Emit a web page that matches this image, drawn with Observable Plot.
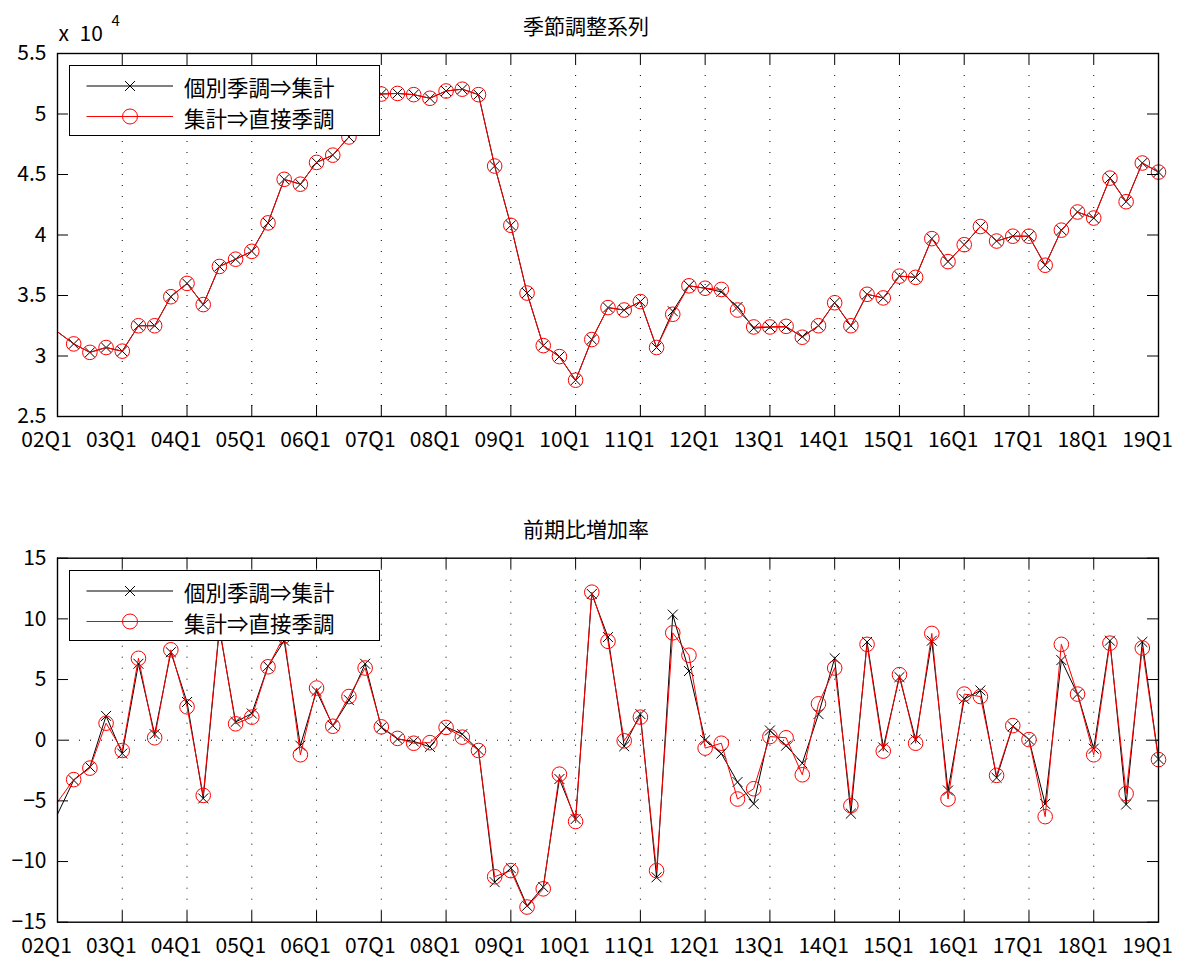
<!DOCTYPE html>
<html>
<head>
<meta charset="utf-8">
<script src="https://cdn.jsdelivr.net/npm/d3@7"></script>
<script src="https://cdn.jsdelivr.net/npm/@observablehq/plot@0.6"></script>
<style>
  body { margin: 0; background: #fff; font-family: "Noto Sans CJK JP", sans-serif; }
  #wrap { position: relative; width: 1181px; height: 959px; overflow: hidden; }
  .panel { position: absolute; left: 0; }
  .legend { position: absolute; left: 69px; width: 311px; height: 71px; box-sizing: border-box;
            border: 1.5px solid #000; background: #fff; }
  .legend svg { position: absolute; left: -1.5px; top: -1.5px; }
  .legend .lab { position: absolute; left: 114px; font-size: 21.5px; line-height: 1; color: #000; white-space: nowrap; }
</style>
</head>
<body>
<div id="wrap"></div>
<script>
// ---------- data ----------
// x: quarter index (0 = 02Q1 ... 68 = 19Q1)
const xTickIndex = [0, 4, 8, 12, 16, 20, 24, 28, 32, 36, 40, 44, 48, 52, 56, 60, 64, 68];
const xTickLabels = ["02Q1","03Q1","04Q1","05Q1","06Q1","07Q1","08Q1","09Q1","10Q1","11Q1",
                     "12Q1","13Q1","14Q1","15Q1","16Q1","17Q1","18Q1","19Q1"];
const seriesNames = ["個別季調⇒集計", "集計⇒直接季調"];

// 季節調整系列 (level)
const saIndividual = [32000,31000,30300,30700,30400,32500,32500,34900,36000,34250,
  37400,38000,38650,41000,44600,44200,46000,46600,48100,51100,
  51650,51700,51600,51300,51900,52050,51600,45700,40800,35200,
  30860,29950,28000,31360,34000,33800,34500,30700,33700,35800,
  35600,35300,34050,32300,32400,32400,31600,32500,34400,32500,
  35100,34800,36600,36500,39700,37800,39200,40700,39500,39900,
  39900,37500,40400,41900,41400,44700,42750,45950,45200];
const saAggregate = [32000,31000,30300,30700,30400,32500,32500,34900,36000,34250,
  37400,38000,38650,41000,44600,44200,46000,46600,48100,51100,
  51650,51700,51600,51300,51900,52050,51600,45700,40800,35200,
  30860,29950,28000,31360,34000,33800,34500,30700,33450,35800,
  35600,35500,33800,32400,32400,32450,31550,32500,34400,32500,
  35100,34800,36600,36500,39700,37800,39200,40700,39500,39900,
  39900,37500,40400,41900,41400,44700,42750,45950,45200];

// 前期比増加率 (%)
const grIndividual = [-6.1,-3.3,-2.2,2.0,-1.1,6.3,0.5,7.25,3.15,-4.8,
  9.2,1.5,2.2,6.1,8.2,-0.45,4.05,1.2,3.3,6.3,
  1.05,0.1,-0.1,-0.55,1.1,0.5,-0.8,-11.7,-10.55,-13.65,
  -12.1,-3.2,-6.5,12.05,8.5,-0.5,2.15,-11.3,10.35,5.7,
  0.0,-1.1,-3.45,-5.25,0.8,-0.45,-1.9,2.15,6.75,-6.05,
  8.1,-0.6,5.2,0.05,8.2,-4.15,3.4,4.1,-3.1,1.15,
  0.05,-5.25,6.6,3.8,-0.7,8.2,-5.3,8.1,-1.55];
const grAggregate = [-5.1,-3.25,-2.3,1.4,-0.85,6.75,0.2,7.45,2.75,-4.55,
  9.3,1.35,1.9,6.05,8.6,-1.2,4.3,1.15,3.6,5.95,
  1.1,0.15,-0.25,-0.2,1.05,0.25,-0.85,-11.25,-10.75,-13.75,
  -12.25,-2.8,-6.7,12.2,8.15,-0.05,1.9,-10.75,8.85,7.0,
  -0.65,-0.25,-4.85,-4.0,0.3,0.2,-2.85,3.0,5.95,-5.4,
  7.9,-0.9,5.4,-0.25,8.8,-4.85,3.8,3.6,-2.9,1.2,
  0.05,-6.3,7.9,3.8,-1.2,8.0,-4.4,7.6,-1.6];

const levelTicks = [25000, 30000, 35000, 40000, 45000, 50000, 55000];
const rateTicks = [-15, -10, -5, 0, 5, 10, 15];

// ---------- drawing ----------
const W = 1181, ML = 57, MR = 23, TICK = 11;
const FONT = '"Noto Sans CJK JP", sans-serif';

function panel({s1, s2, yDomain, yTicks, yFmt, title, titleDy, height, mt, mb, zeroLine, extraMarks}) {
  const innerH = height - mt - mb;
  const innerW = W - ML - MR;
  const d1 = s1.map((v, i) => ({i, v}));
  const d2 = s2.map((v, i) => ({i, v}));
  const marks = [
    Plot.ruleX(xTickIndex, {x: d => d, stroke: "#000", strokeWidth: 1, strokeDasharray: "1,10"}),
  ];
  if (zeroLine) marks.push(Plot.ruleY([0], {y: d => d, stroke: "#000", strokeWidth: 1, strokeDasharray: "1,10"}));
  marks.push(
    Plot.line(d1, {x: "i", y: "v", stroke: "#000", strokeWidth: 1}),
    Plot.dot(d1.filter(d => d.i > 0), {x: "i", y: "v", symbol: "times", r: 4.6, stroke: "#000", strokeWidth: 1}),
    Plot.line(d2, {x: "i", y: "v", stroke: "#ff0000", strokeWidth: 1}),
    Plot.dot(d2.filter(d => d.i > 0), {x: "i", y: "v", symbol: "circle", r: 7.3, stroke: "#ff0000", fill: "none", strokeWidth: 1}),
    // inward tick marks on all four sides
    Plot.ruleX(xTickIndex, {x: d => d, insetTop: innerH - TICK, stroke: "#000", strokeWidth: 1}),
    Plot.ruleX(xTickIndex, {x: d => d, insetBottom: innerH - TICK, stroke: "#000", strokeWidth: 1}),
    Plot.ruleY(yTicks, {y: d => d, insetRight: innerW - TICK, stroke: "#000", strokeWidth: 1}),
    Plot.ruleY(yTicks, {y: d => d, insetLeft: innerW - TICK, stroke: "#000", strokeWidth: 1}),
    Plot.frame({stroke: "#000", strokeWidth: 1.4}),
    Plot.axisX(xTickIndex, {tickSize: 0, tickPadding: 16, dx: -11, fontSize: 21, label: null,
                            tickFormat: d => xTickLabels[xTickIndex.indexOf(d)]}),
    Plot.axisY(yTicks, {tickSize: 0, tickPadding: 11, fontSize: 21, label: null, tickFormat: yFmt}),
    Plot.text([title], {text: d => d, frameAnchor: "top", lineAnchor: "middle", dx: -22, dy: titleDy, fontSize: 21, fill: "#000"}),
    ...(extraMarks || [])
  );
  return Plot.plot({
    width: W, height, marginTop: mt, marginBottom: mb, marginLeft: ML, marginRight: MR,
    style: {fontFamily: FONT, fontSize: "21px", color: "#000", background: "#fff", overflow: "visible"},
    x: {domain: [0, 68], label: null},
    y: {domain: yDomain, label: null},
    marks
  });
}

const wrap = document.getElementById("wrap");

const topPanel = panel({
  s1: saIndividual, s2: saAggregate,
  yDomain: [25000, 55000], yTicks: levelTicks, yFmt: d => String(d / 1e4),
  title: "季節調整系列", titleDy: -26, height: 480, mt: 53, mb: 64, zeroLine: false,
  extraMarks: [
    Plot.text(["x"], {text: d => d, frameAnchor: "top-left", lineAnchor: "middle", textAnchor: "start", dx: 1, dy: -19, fontSize: 21, fill: "#000"}),
    Plot.text(["10"], {text: d => d, frameAnchor: "top-left", lineAnchor: "middle", textAnchor: "start", dx: 22, dy: -19, fontSize: 21, fill: "#000"}),
    Plot.text(["4"], {text: d => d, frameAnchor: "top-left", lineAnchor: "middle", textAnchor: "start", dx: 54, dy: -32, fontSize: 15, fill: "#000"})
  ]
});
topPanel.classList.add("panel");
topPanel.style.top = "0px";
wrap.appendChild(topPanel);

const bottomPanel = panel({
  s1: grIndividual, s2: grAggregate,
  yDomain: [-15, 15], yTicks: rateTicks, yFmt: d => d < 0 ? "\u2212" + (-d) : String(d),
  title: "前期比増加率", titleDy: -27.5, height: 479, mt: 77.7, mb: 37.3, zeroLine: true
});
bottomPanel.classList.add("panel");
bottomPanel.style.top = "480px";
wrap.appendChild(bottomPanel);

// legends
function legend(topPx) {
  const div = document.createElement("div");
  div.className = "legend";
  div.style.top = topPx + "px";
  const ns = "http://www.w3.org/2000/svg";
  const svg = document.createElementNS(ns, "svg");
  svg.setAttribute("width", 311); svg.setAttribute("height", 71);
  const rows = [{y: 21, color: "#000", sym: "x"}, {y: 51.5, color: "#ff0000", sym: "o"}];
  rows.forEach(r => {
    const l = document.createElementNS(ns, "line");
    l.setAttribute("x1", 17.5); l.setAttribute("x2", 104); l.setAttribute("y1", r.y); l.setAttribute("y2", r.y);
    l.setAttribute("stroke", r.color); l.setAttribute("stroke-width", 1);
    svg.appendChild(l);
    if (r.sym === "x") {
      const p = document.createElementNS(ns, "path");
      const s = 5;
      p.setAttribute("d", `M${61 - s},${r.y - s}L${61 + s},${r.y + s}M${61 - s},${r.y + s}L${61 + s},${r.y - s}`);
      p.setAttribute("stroke", r.color); p.setAttribute("stroke-width", 1);
      svg.appendChild(p);
    } else {
      const c = document.createElementNS(ns, "circle");
      c.setAttribute("cx", 61); c.setAttribute("cy", r.y); c.setAttribute("r", 7.5);
      c.setAttribute("fill", "none"); c.setAttribute("stroke", r.color); c.setAttribute("stroke-width", 1);
      svg.appendChild(c);
    }
  });
  div.appendChild(svg);
  seriesNames.forEach((name, k) => {
    const t = document.createElement("div");
    t.className = "lab";
    t.textContent = name;
    t.style.top = (k === 0 ? 10 : 41) + "px";
    div.appendChild(t);
  });
  wrap.appendChild(div);
}
legend(65);
legend(570);
</script>
</body>
</html>
